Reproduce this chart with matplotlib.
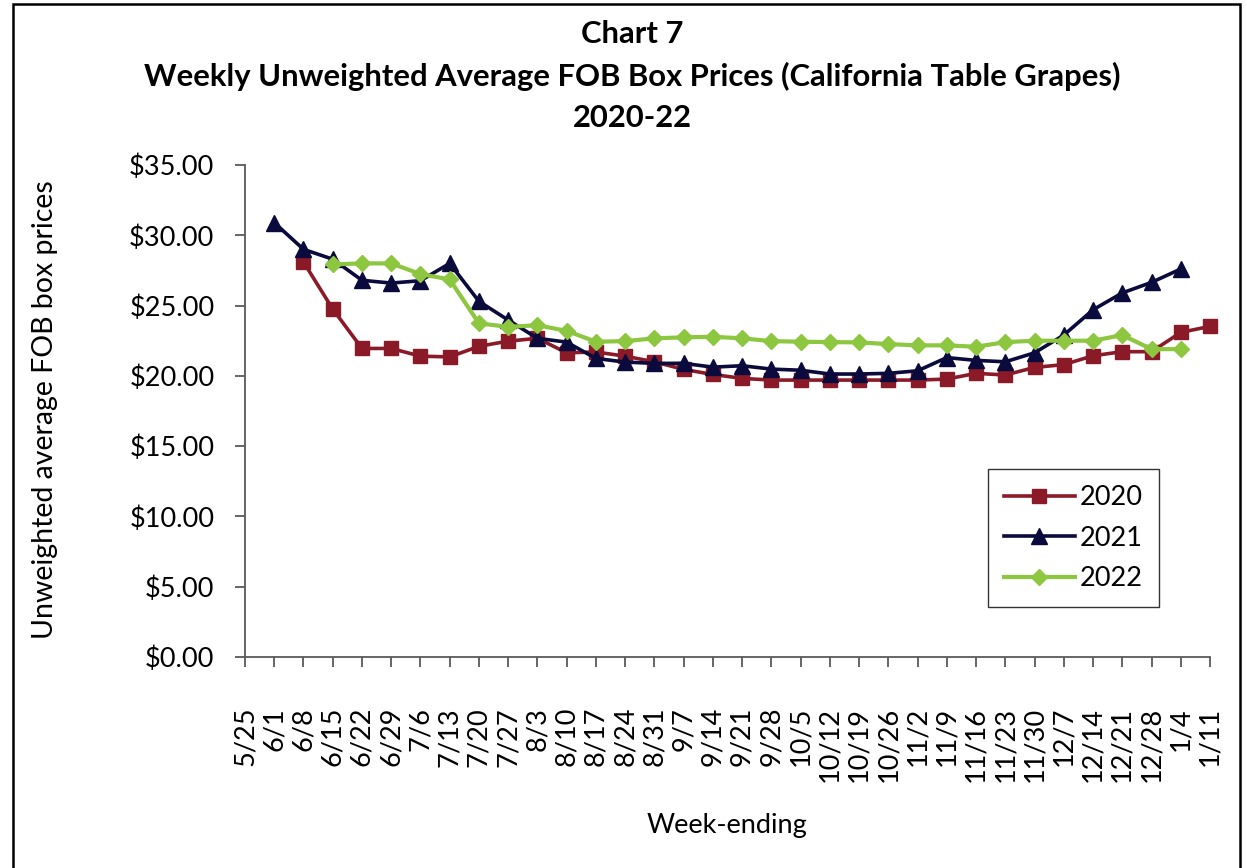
import matplotlib
matplotlib.use("Agg")
import matplotlib.pyplot as plt
from matplotlib.patches import Rectangle
from matplotlib.ticker import FuncFormatter, MultipleLocator

weeks = ["5/25", "6/1", "6/8", "6/15", "6/22", "6/29", "7/6", "7/13", "7/20", "7/27",
         "8/3", "8/10", "8/17", "8/24", "8/31", "9/7", "9/14", "9/21", "9/28", "10/5",
         "10/12", "10/19", "10/26", "11/2", "11/9", "11/16", "11/23", "11/30", "12/7",
         "12/14", "12/21", "12/28", "1/4", "1/11"]

# values start at the given week index
start_2020 = 2
prices_2020 = [28.1, 24.75, 21.95, 21.95, 21.4, 21.35, 22.1, 22.47, 22.67, 21.64,
               21.7, 21.4, 21.0, 20.46, 20.1, 19.82, 19.7, 19.7, 19.7, 19.7,
               19.7, 19.7, 19.77, 20.18, 20.06, 20.6, 20.8, 21.43, 21.72, 21.72,
               23.09, 23.52]

start_2021 = 1
prices_2021 = [30.9, 29.0, 28.3, 26.8, 26.6, 26.77, 28.0, 25.3, 23.97, 22.67,
               22.4, 21.24, 20.98, 20.89, 20.89, 20.62, 20.72, 20.48, 20.4, 20.13,
               20.13, 20.18, 20.36, 21.3, 21.1, 21.0, 21.64, 22.9, 24.7, 25.9,
               26.65, 27.6]

start_2022 = 3
prices_2022 = [27.93, 28.0, 28.0, 27.24, 26.86, 23.73, 23.49, 23.6, 23.2, 22.43,
               22.47, 22.67, 22.74, 22.78, 22.67, 22.47, 22.43, 22.4, 22.38, 22.26,
               22.17, 22.17, 22.07, 22.4, 22.5, 22.5, 22.5, 22.9, 21.9, 21.9]

series_names = ["2020", "2021", "2022"]

W, H = 1247, 868
fig = plt.figure(figsize=(W / 100, H / 100), dpi=100)
font = ["Lato", "DejaVu Sans"]
plt.rcParams["font.family"] = font
FS = 19.5

# outer chart border
fig.patches.append(Rectangle((13 / W, -0.05), (1240 - 13) / W, (H - 4) / H + 0.05,
                             transform=fig.transFigure, fill=False,
                             edgecolor="black", linewidth=1.8))

ax = fig.add_axes([245 / W, (H - 657) / H, (1210 - 245) / W, (657 - 165) / H])

def plot_series(start, vals, color, marker, ms, lw, label):
    xs = list(range(start, start + len(vals)))
    ax.plot(xs, vals, color=color, marker=marker, markersize=ms, linewidth=lw,
            markeredgecolor=color, label=label, clip_on=False)

plot_series(start_2020, prices_2020, "#8B1A28", "s", 10.5, 2.6, series_names[0])
plot_series(start_2021, prices_2021, "#0A0A3C", "^", 11, 2.6, series_names[1])
plot_series(start_2022, prices_2022, "#8DC63F", "D", 8, 3.0, series_names[2])

ax.set_xlim(0, len(weeks) - 1)
ax.set_ylim(0, 35)
ax.yaxis.set_major_locator(MultipleLocator(5))
ax.yaxis.set_major_formatter(FuncFormatter(lambda v, p: f"${v:.2f}"))
ax.set_xticks(range(len(weeks)))
ax.set_xticklabels(weeks, rotation=90, fontsize=FS)

for s in ["top", "right"]:
    ax.spines[s].set_visible(False)
for s in ["left", "bottom"]:
    ax.spines[s].set_color("#595959")
    ax.spines[s].set_linewidth(1.3)

ax.tick_params(axis="y", direction="out", length=7, width=1.3, color="#595959",
               labelsize=FS, pad=15)
ax.tick_params(axis="x", direction="out", length=7, width=1.3, color="#595959",
               pad=29)

fig.text(45 / W, 1 - 410 / H, "Unweighted average FOB box prices", rotation=90,
         ha="center", va="center", fontsize=20.5)
fig.text(727 / W, 1 - 825 / H, "Week-ending", ha="center", va="center", fontsize=FS)

title_lines = ["Chart 7",
               "Weekly Unweighted Average FOB Box Prices (California Table Grapes)",
               "2020-22"]
for i, t in enumerate(title_lines):
    fig.text(632 / W, 1 - (34 + 42 * i) / H, t, ha="center", va="center",
             fontsize=22.3, fontweight="bold")

leg = ax.legend(loc="upper left", bbox_to_anchor=((988 - 245) / (1210 - 245),
                (657 - 469) / (657 - 165)), fontsize=FS, frameon=True,
                fancybox=False, edgecolor="black", handlelength=2.6,
                borderpad=0.6, labelspacing=0.57, handletextpad=0.2,
                borderaxespad=0)
leg.get_frame().set_linewidth(1.0)

fig.savefig("out.png", dpi=100)
